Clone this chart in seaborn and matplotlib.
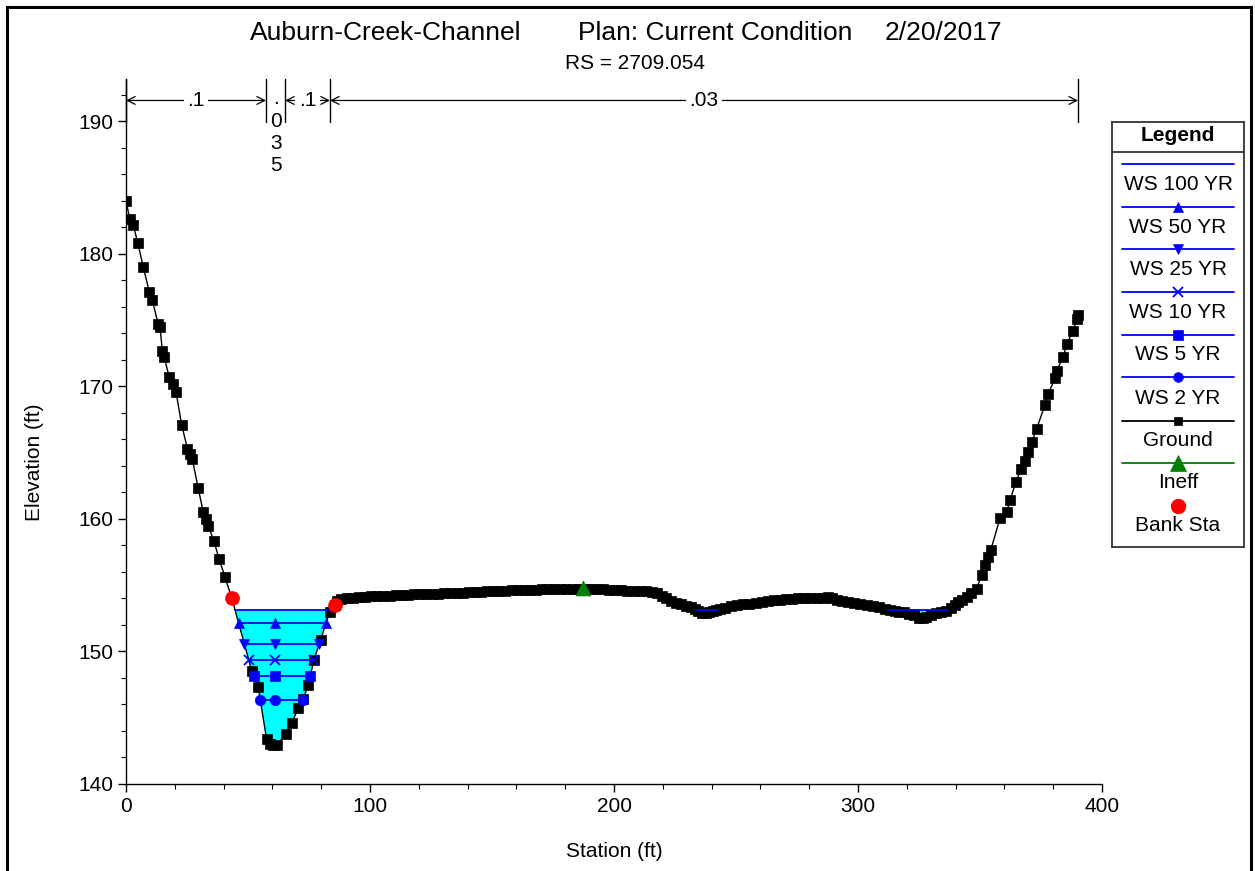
import numpy as np
import matplotlib
matplotlib.use("Agg")
import matplotlib.pyplot as plt
from matplotlib.patches import Rectangle
from matplotlib.ticker import MultipleLocator
import seaborn as sns

# ---- cross-section data (station ft, elevation ft) ----
station = [
    0.0, 1.6, 3.0, 4.8, 7.1, 9.6, 10.8, 13.2, 13.9, 14.9, 15.7, 17.7, 19.4, 20.5,
    22.8, 25.2, 26.2, 27.2, 29.6, 31.7, 32.6, 33.7, 36.0, 38.2, 40.6, 43.4,
    51.5, 54.2, 57.6, 59.0, 60.2, 61.8, 65.6, 67.9, 70.6, 72.7, 74.7, 77.0,
    79.8, 83.5, 85.7,
    86.5, 88.0, 90.5, 93.0, 95.5, 98.0, 100.5, 103.0, 105.5, 108.0, 110.5, 113.0,
    115.5, 118.0, 120.5, 123.0, 125.5, 128.0, 130.5, 133.0, 135.5, 138.0, 140.5,
    143.0, 145.5, 148.0, 150.5, 153.0, 155.5, 158.0, 160.5, 163.0, 165.5, 168.0,
    170.5, 173.0, 175.5, 178.0, 180.5, 183.0, 185.5, 188.0, 190.5, 193.0, 195.5,
    198.0, 200.5, 203.0, 205.5, 208.0, 210.5, 213.0, 215.5, 217.5, 219.5, 221.5,
    223.5, 225.5, 227.5, 229.5, 231.5, 233.0, 234.5, 236.0, 237.5, 239.0, 240.5,
    242.0, 243.5, 245.5, 248.0, 250.5, 253.0, 255.5, 258.0, 260.5, 263.0, 265.5,
    268.0, 270.5, 273.0, 275.5, 278.0, 280.5, 283.0, 285.5, 287.5, 289.5, 291.5,
    293.5, 296.0, 298.5, 301.0, 303.5, 306.0, 308.5, 311.0, 313.0, 315.0, 317.0,
    319.0, 321.0, 323.0, 325.0, 326.5, 328.0, 330.0, 332.0, 334.0, 336.0, 338.0,
    339.8, 341.0, 342.5, 344.5, 346.5, 348.6, 350.7, 352.0, 353.4, 354.4, 358.2,
    360.9, 362.3, 364.7, 367.0, 368.4, 369.8, 371.2, 373.2, 376.6, 378.0, 380.7,
    381.4, 384.1, 385.5, 388.2, 389.6, 390.2,
]
elevation = [
    184.0, 182.6, 182.15, 180.85, 179.0, 177.1, 176.5, 174.7, 174.5, 172.7, 172.2,
    170.7, 170.2, 169.6, 167.1, 165.3, 164.9, 164.5, 162.3, 160.5, 160.0, 159.5,
    158.35, 156.95, 155.6, 154.0,
    148.55, 147.3, 143.4, 143.05, 142.95, 142.95, 143.75, 144.6, 145.7, 146.4,
    147.5, 149.35, 150.9, 153.0, 153.5,
    153.8, 153.95, 154.0, 154.05, 154.1, 154.12, 154.15, 154.18, 154.2, 154.22,
    154.24, 154.26, 154.28, 154.3, 154.31, 154.33, 154.35, 154.37, 154.39, 154.41,
    154.43, 154.45, 154.47, 154.49, 154.51, 154.53, 154.55, 154.57, 154.59, 154.61,
    154.62, 154.64, 154.65, 154.67, 154.68, 154.69, 154.7, 154.71, 154.71, 154.72,
    154.72, 154.72, 154.71, 154.7, 154.69, 154.67, 154.66, 154.63, 154.6, 154.57,
    154.55, 154.53, 154.5, 154.4, 154.2, 154.0, 153.8, 153.65, 153.55, 153.45,
    153.35, 153.2, 153.05, 152.9, 152.88, 152.95, 153.05, 153.1, 153.2, 153.3,
    153.4, 153.48, 153.55, 153.62, 153.68, 153.74, 153.8, 153.85, 153.9, 153.94,
    153.97, 154.0, 154.02, 154.03, 154.03, 154.05, 154.1, 154.05, 153.9, 153.8,
    153.72, 153.65, 153.58, 153.52, 153.45, 153.37, 153.18, 153.1, 153.05, 153.0,
    152.95, 152.85, 152.72, 152.55, 152.5, 152.6, 152.75, 152.88, 152.98, 153.08,
    153.25, 153.5, 153.7, 153.9, 154.1, 154.4, 154.74, 155.76, 156.5, 157.1,
    157.65, 160.04, 160.5, 161.4, 162.8, 163.8, 164.4, 165.05, 165.8, 166.8, 168.6,
    169.46, 170.6, 171.2, 172.2, 173.2, 174.2, 175.1, 175.4,
]

bank_station = [43.4, 85.7]
bank_elevation = [154.0, 153.5]

ineff_station = [187.3]
ineff_elevation = [154.8]

ws_profiles = ["WS 100 YR", "WS 50 YR", "WS 25 YR", "WS 10 YR", "WS 5 YR", "WS 2 YR"]
ws_elevation = [153.12, 152.12, 150.6, 149.35, 148.17, 146.33]
ws_mid_station = 61.0

n_breaks = [0.0, 57.4, 65.2, 83.6, 390.2]
n_values = [".1", ".035", ".1", ".03"]

title_parts = ["Auburn-Creek-Channel", "Plan: Current Condition", "2/20/2017"]
subtitle = "RS = 2709.054"

# ---- styling ----
ws_markers = [None, "^", "v", "x", "s", "o"]
WS_COLOR = "#0000FF"
FILL_COLOR = "#00FFFF"
INEFF_COLOR = "#008000"
BANK_COLOR = "#FF0000"

sns.set_theme(style="ticks")
plt.rcParams["font.family"] = ["Liberation Sans", "DejaVu Sans"]
plt.rcParams["axes.unicode_minus"] = False
for key in ("text.color", "axes.labelcolor", "xtick.color", "ytick.color",
            "axes.edgecolor"):
    plt.rcParams[key] = "black"

W, H = 1255, 871
fig = plt.figure(figsize=(W / 100, H / 100), dpi=100)
fig.patch.set_facecolor("white")
ax = fig.add_axes([126 / W, 87 / H, 976 / W, 705 / H])
ax.set_facecolor("white")

st = np.asarray(station)
el = np.asarray(elevation)


def wet_spans(x, z, level):
    """Return (left, right) station pairs where the ground lies below level."""
    wet = z < level
    spans = []
    i, n = 0, len(x)
    while i < n:
        if not wet[i]:
            i += 1
            continue
        j = i
        while j + 1 < n and wet[j + 1]:
            j += 1
        left = x[i] if i == 0 else np.interp(level, [z[i], z[i - 1]], [x[i], x[i - 1]])
        right = x[j] if j == n - 1 else np.interp(level, [z[j], z[j + 1]], [x[j], x[j + 1]])
        spans.append((left, right))
        i = j + 1
    return spans


# water fill below the highest profile
top_ws = max(ws_elevation)
ax.fill_between(st, el, top_ws, where=el < top_ws, interpolate=True,
                color=FILL_COLOR, linewidth=0, zorder=1)

# ground line
sns.lineplot(x=station, y=elevation, ax=ax, color="black", lw=1.0, marker="s",
             markersize=7.2, markeredgecolor="black", markeredgewidth=0.5,
             estimator=None, sort=False, zorder=2)

# water surface profiles
for name, level, mk in zip(ws_profiles, ws_elevation, ws_markers):
    for left, right in wet_spans(st, el, level):
        if mk is not None and left <= ws_mid_station <= right:
            xs = [left, ws_mid_station, right]
        else:
            xs = [left, right]
        kw = dict(color=WS_COLOR, lw=1.3, estimator=None, sort=False, zorder=3)
        if mk is not None and len(xs) == 3:
            kw.update(marker=mk, markersize=7.5,
                      markeredgecolor=WS_COLOR, markerfacecolor=WS_COLOR,
                      markeredgewidth=1.3 if mk == "x" else 0.5)
        sns.lineplot(x=xs, y=[level] * len(xs), ax=ax, **kw)

# ineffective flow and bank stations
sns.scatterplot(x=ineff_station, y=ineff_elevation, ax=ax, marker="^", s=115,
                color=INEFF_COLOR, edgecolor=INEFF_COLOR, linewidth=0.5, zorder=4)
sns.scatterplot(x=bank_station, y=bank_elevation, ax=ax, marker="o", s=100,
                color=BANK_COLOR, edgecolor=BANK_COLOR, linewidth=0.5, zorder=5)

# axes
ax.set_xlim(0, 400)
ax.set_ylim(140, 193.2)
ax.xaxis.set_major_locator(MultipleLocator(100))
ax.xaxis.set_minor_locator(MultipleLocator(20))
ax.yaxis.set_major_locator(MultipleLocator(10))
ax.yaxis.set_minor_locator(MultipleLocator(2))
ax.set_yticks([140, 150, 160, 170, 180, 190])
ax.tick_params(which="major", direction="out", length=6, width=1, colors="black",
               labelsize=15, pad=3)
ax.tick_params(which="minor", direction="out", length=3.5, width=0.8, colors="black")
for side in ("top", "right"):
    ax.spines[side].set_visible(False)
for side in ("left", "bottom"):
    ax.spines[side].set_color("black")
    ax.spines[side].set_linewidth(1.0)
ax.grid(False)
ax.set_xlabel("Station (ft)", fontsize=15, color="black")
ax.set_ylabel("Elevation (ft)", fontsize=15, color="black")
ax.xaxis.set_label_coords(0.5, -0.0823)
ax.yaxis.set_label_coords(-0.084, 0.4567)

# Manning's n bar across the top
n_top, n_bottom, n_arrow = 193.2, 189.93, 191.58
for b in n_breaks:
    ax.plot([b, b], [n_bottom, n_top], color="black", lw=1.0, clip_on=False, zorder=6)
for (x0, x1), label in zip(zip(n_breaks[:-1], n_breaks[1:]), n_values):
    mid = 0.5 * (x0 + x1)
    if (x1 - x0) < 12:
        ax.text(mid, 192.42, "\n".join(label), ha="center", va="top", fontsize=15,
                linespacing=1.22, color="black", zorder=7)
        continue
    ax.annotate("", xy=(x1, n_arrow), xytext=(x0, n_arrow),
                arrowprops=dict(arrowstyle="<->", lw=0.9, color="black",
                                shrinkA=0, shrinkB=0, mutation_scale=14),
                annotation_clip=False, zorder=6)
    ax.text(mid, n_arrow, label, ha="center", va="center", fontsize=15, color="black",
            bbox=dict(facecolor="white", edgecolor="none", pad=2.5), zorder=7)

# titles
fig.text(250 / W, 1 - 40 / H, title_parts[0], fontsize=19, ha="left", va="baseline")
fig.text(578 / W, 1 - 40 / H, title_parts[1], fontsize=19, ha="left", va="baseline")
fig.text(885 / W, 1 - 40 / H, title_parts[2], fontsize=19, ha="left", va="baseline")
fig.text(635 / W, 1 - 69 / H, subtitle, fontsize=15, ha="center", va="baseline")

# legend panel
lx0, ly0, lw_, lh_ = 1112, 122, 132, 425
lax = fig.add_axes([lx0 / W, 1 - (ly0 + lh_) / H, lw_ / W, lh_ / H])
lax.set_xlim(0, lw_)
lax.set_ylim(lh_, 0)
lax.set_xticks([])
lax.set_yticks([])
lax.set_facecolor("white")
for s in lax.spines.values():
    s.set_visible(True)
    s.set_color("#333333")
    s.set_linewidth(1.3)
lax.axhline(29.7, color="#333333", lw=1.3)
lax.text(66, 18.8, "Legend", ha="center", va="baseline", fontsize=15, fontweight="bold")

legend_rows = [
    ("WS 100 YR", WS_COLOR, None, 7, 42.0, 68.2),
    ("WS 50 YR", WS_COLOR, "^", 7, 84.7, 110.5),
    ("WS 25 YR", WS_COLOR, "v", 7, 127.3, 152.8),
    ("WS 10 YR", WS_COLOR, "x", 7, 170.0, 195.5),
    ("WS 5 YR", WS_COLOR, "s", 7, 213.0, 238.2),
    ("WS 2 YR", WS_COLOR, "o", 7, 255.3, 281.5),
    ("Ground", "black", "s", 6, 298.7, 323.8),
    ("Ineff", INEFF_COLOR, "^", 11, 340.7, 366.2),
]
for label, color, mk, ms, y_line, y_text in legend_rows:
    lax.plot([10.3, 122], [y_line, y_line], color=color, lw=1.3)
    if mk is not None:
        lax.plot([66], [y_line], marker=mk, color=color, markersize=ms,
                 markeredgewidth=1.3 if mk == "x" else 0.5, linestyle="none")
    lax.text(66, y_text, label, ha="center", va="baseline", fontsize=15)
lax.plot([66], [384], marker="o", color=BANK_COLOR, markersize=10, linestyle="none")
lax.text(66, 408.8, "Bank Sta", ha="center", va="baseline", fontsize=15)

# outer frame
fig.patches.append(Rectangle((7 / W, -0.02), (1251 - 7) / W, 1.02 - 7 / H,
                             transform=fig.transFigure, fill=False,
                             edgecolor="black", linewidth=2.2, zorder=10))

fig.savefig("out.png", dpi=100, facecolor="white")
